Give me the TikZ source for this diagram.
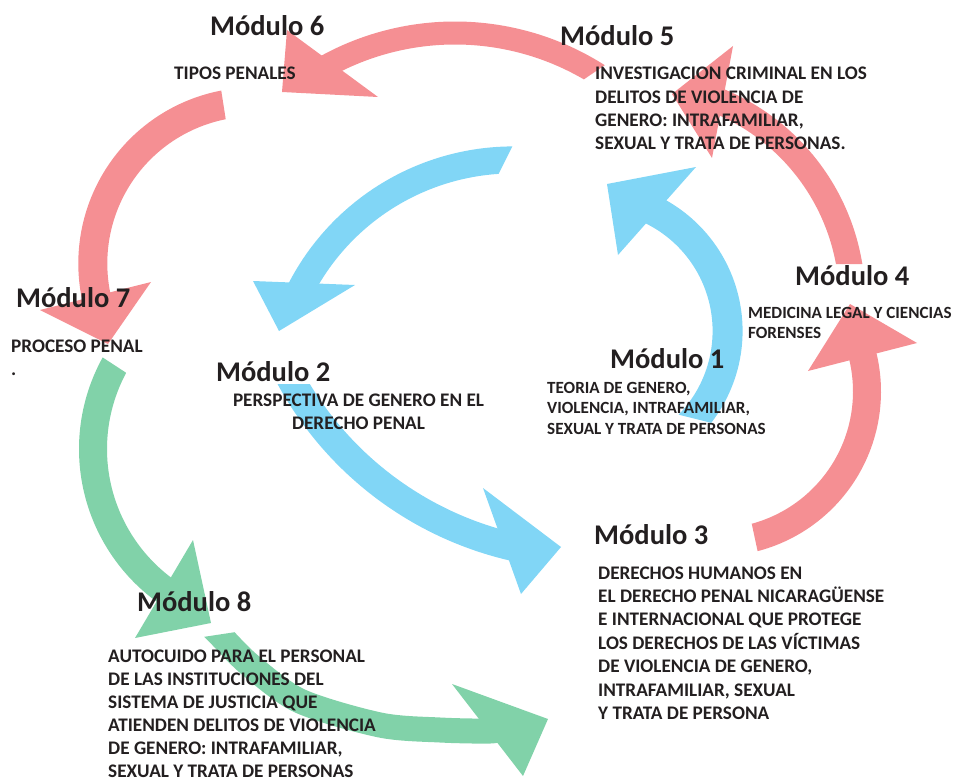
\documentclass[tikz,border=0pt]{standalone}
\usepackage{fontspec}
\setmainfont{Carlito}
\usetikzlibrary{calc}
\definecolor{pk}{HTML}{F58F93}
\definecolor{bl}{HTML}{81D6F6}
\definecolor{gr}{HTML}{81D2A9}
\definecolor{tx}{HTML}{231F20}
\newcommand\txtblock[2]{\vtop{\baselineskip=#1\lineskiplimit=-100pt\lineskip=0pt\halign{##\hfil\cr#2\crcr}}}
\newcommand\txtblockc[2]{\vtop{\baselineskip=#1\lineskiplimit=-100pt\lineskip=0pt\halign{\hfil##\hfil\cr#2\crcr}}}
% #1 colour, #2 width, #3 centre line path, #4 #5 tail cut, #6 point toward head, #7 head triangle
\newcommand\bandarrow[7]{%
  \begin{scope}
    \coordinate (cA) at (#4);
    \coordinate (cB) at (#5);
    \coordinate (cH) at (#6);
    \coordinate (cM) at ($0.5*(cA)+0.5*(cB)$);
    \coordinate (cP) at ($(cA)+12*(cA)-12*(cB)$);
    \coordinate (cQ) at ($(cB)+12*(cB)-12*(cA)$);
    \coordinate (cV) at ($3*(cH)-3*(cM)$);
    \clip (cP) -- (cQ) -- ($(cQ)+(cV)$) -- ($(cP)+(cV)$) -- cycle;
    \draw[#1, line width=#2, line cap=butt] #3;
  \end{scope}
  \fill[#1] #7 -- cycle;
}
\tikzset{
  title/.style={anchor=base west, inner sep=0pt, text=tx, font=\fontsize{28.5}{30}\selectfont\bfseries},
  body/.style={anchor=base west, inner sep=0pt, text=tx, font=\fontsize{19.2}{23}\selectfont\bfseries},
  smallbody/.style={anchor=base west, inner sep=0pt, text=tx, font=\fontsize{17.1}{20}\selectfont\bfseries},
  arc60/.style={samples=60, smooth},
}
\begin{document}
\begin{tikzpicture}[x=1pt,y=-1pt]
\useasboundingbox (0,0) rectangle (953,781);
% A: modulo 5 -> modulo 6
\bandarrow{pk}{23pt}{plot[arc60, domain=-52:-121] ({455+267*cos(\x)},{300+267*sin(\x)})}
  {580,82}{608,63}{334,62}{(287,30) -- (282,92) -- (378,97)}
% B: modulo 6 -> modulo 7
\bandarrow{pk}{29pt}{plot[arc60, domain=-95:-194] ({254.4+161.6*cos(\x)},{263.5+161.6*sin(\x)})}
  {221,89}{226,121}{95,300}{(40,310) -- (108,344) -- (151,282)}
% C: modulo 7 -> modulo 8
\bandarrow{gr}{28pt}{plot[arc60, domain=214:122] ({268+175*cos(\x)},{449+175*sin(\x)})}
  {102,357}{128,374}{164,590}{(193,540) -- (211,623) -- (135,638)}
% D: modulo 8 -> modulo 3
\bandarrow{gr}{25pt}{plot[smooth] coordinates {(209,624) (219.5,634.5) (250,665) (300,701) (380,725) (440,730) (490,731) (505,728)}}
  {203,637}{236,632}{490,731}{(452,684) -- (548,719) -- (523,776)}
% E: top -> modulo 2
\bandarrow{bl}{27pt}{plot[arc60, domain=-88:-154] ({513.3+239.4*cos(\x)},{399.3+239.4*sin(\x)})}
  {512,147}{499,173}{304,283}{(253,281) -- (355,285) -- (279,331)}
% F: modulo 2 -> modulo 3
\bandarrow{bl}{28pt}{plot[arc60, domain=154:102.5] ({590+341.8*cos(\x)},{213.9+341.8*sin(\x)})}
  {270,384}{315,384}{515,543}{(483,488) -- (561,547) -- (521,594)}
% G: modulo 1 -> top
\bandarrow{bl}{30pt}{plot[arc60, domain=47:-65] ({592.6+135*cos(\x)},{331+135*sin(\x)})}
  {680,415}{712,423}{658,214}{(696,167) -- (607,184) -- (618,255)}
% H: modulo 3 -> modulo 4
\bandarrow{pk}{28pt}{plot[arc60, domain=80:-18] ({716+151*cos(\x)},{391.5+151*sin(\x)})}
  {752,525}{758,553}{863,357}{(808,371) -- (850,304) -- (917,343)}
% I: modulo 4 -> modulo 5
\bandarrow{pk}{26pt}{plot[arc60, domain=-5:-69] ({636.3+216*cos(\x)},{300.7+216*sin(\x)})}
  {836,264}{863,264}{723,103}{(733,46) -- (672,94) -- (712,158)}
% titles
\node[title] (t6) at (210,36) {Módulo 6};
\node[title] (t5) at (560,46) {Módulo 5};
\node[title] (t7) at (16,307) {Módulo 7};
\node[title] (t2) at (216,381) {Módulo 2};
\node[title] (t1) at (610,368) {Módulo 1};
\node[title] (t4) at (795,285) {Módulo 4};
\node[title] (t3) at (594,544) {Módulo 3};
\node[title] (t8) at (137,611) {Módulo 8};
% texts
\node[body] (b6) at (174,80) {TIPOS PENALES};
\node[body] (b5) at (595,80) {\txtblock{23.3pt}{INVESTIGACION CRIMINAL EN LOS\cr DELITOS DE VIOLENCIA DE\cr GENERO: INTRAFAMILIAR,\cr SEXUAL Y TRATA DE PERSONAS.}};
\node[body] (b7) at (11,352) {\txtblock{23pt}{PROCESO PENAL\cr .}};
\node[body, anchor=base] (b2) at (358.5,406.7) {\txtblockc{22.5pt}{PERSPECTIVA DE GENERO EN EL\cr DERECHO PENAL}};
\node[smallbody] (b1) at (547,393) {\txtblock{20.5pt}{TEORIA DE GENERO,\cr VIOLENCIA, INTRAFAMILIAR,\cr SEXUAL Y TRATA DE PERSONAS}};
\node[smallbody] (b4) at (748,318) {\txtblock{20pt}{MEDICINA LEGAL Y CIENCIAS\cr FORENSES}};
\node[body] (b3) at (598,579) {\txtblock{23.4pt}{DERECHOS HUMANOS EN\cr EL DERECHO PENAL NICARAGÜENSE\cr E INTERNACIONAL QUE PROTEGE\cr LOS DERECHOS DE LAS VÍCTIMAS\cr DE VIOLENCIA DE GENERO,\cr INTRAFAMILIAR, SEXUAL\cr Y TRATA DE PERSONA}};
\node[body] (b8) at (108,662) {\txtblock{23pt}{AUTOCUIDO PARA EL PERSONAL\cr DE LAS INSTITUCIONES DEL\cr SISTEMA DE JUSTICIA QUE\cr ATIENDEN DELITOS DE VIOLENCIA\cr DE GENERO: INTRAFAMILIAR,\cr SEXUAL Y TRATA DE PERSONAS}};
\end{tikzpicture}
\end{document}
